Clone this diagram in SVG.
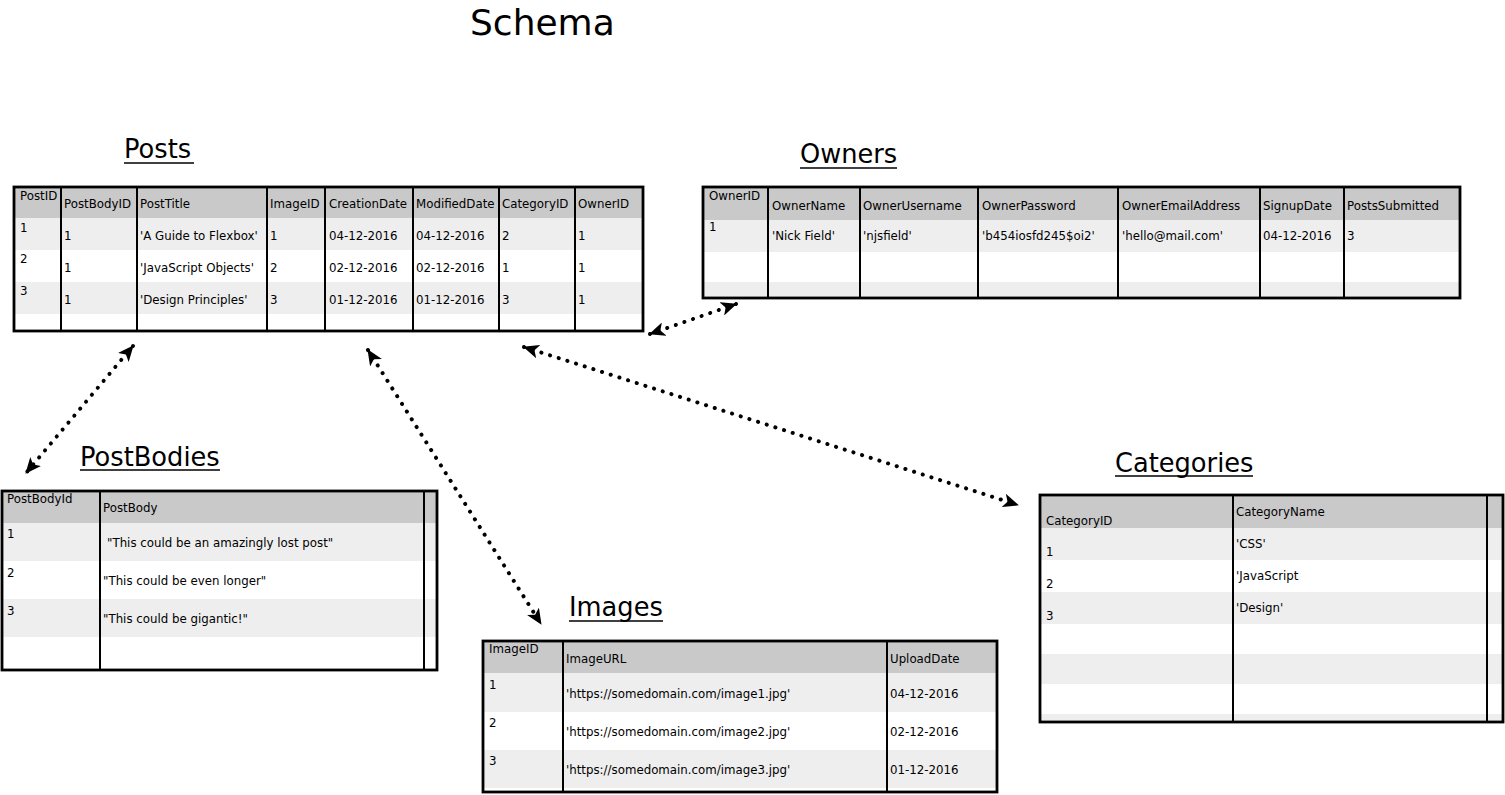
<svg xmlns="http://www.w3.org/2000/svg" width="1505" height="795" viewBox="0 0 1505 795">
<style>
text{font-family:"DejaVu Sans","Liberation Sans",sans-serif;fill:#000}
.t{font-size:11.8px}
.h{font-size:25.7px}
.ttl{font-size:36px}
.hd{fill:#c9c9c9}
.lt{fill:#eeeeee}
.wh{fill:#ffffff}
.col{stroke:#000;stroke-width:2;fill:none}
.bd{stroke:#000;stroke-width:2.8;fill:none}
.ul{stroke:#000;stroke-width:1.6}
.dot{stroke:#000;stroke-width:4;stroke-linecap:round;stroke-dasharray:0.1 9;fill:none}
</style>
<defs>
<marker id="ah" viewBox="0 0 16 14" refX="15" refY="7" markerWidth="16" markerHeight="14" markerUnits="userSpaceOnUse" orient="auto-start-reverse">
<path d="M0,0 L16,7 L0,14 L4,7 z" fill="#000"/>
</marker>
</defs>

<text class="ttl" x="470" y="35">Schema</text>

<g id="posts">
<text class="h" x="124" y="158">Posts</text>
<line class="ul" x1="124" y1="163" x2="194" y2="163"/>
<rect class="hd" x="14" y="187" width="629" height="31"/>
<rect class="lt" x="14" y="218" width="629" height="32"/>
<rect class="wh" x="14" y="250" width="629" height="32"/>
<rect class="lt" x="14" y="282" width="629" height="32"/>
<rect class="wh" x="14" y="314" width="629" height="17"/>
<path class="col" d="M61,187V331M137,187V331M267,187V331M325,187V331M413,187V331M499,187V331M575,187V331"/>
<rect class="bd" x="14" y="187" width="629" height="144"/>
<text class="t" x="20" y="200">PostID</text>
<text class="t" x="64" y="208">PostBodyID</text>
<text class="t" x="140" y="208">PostTitle</text>
<text class="t" x="270" y="208">ImageID</text>
<text class="t" x="329" y="208">CreationDate</text>
<text class="t" x="416" y="208">ModifiedDate</text>
<text class="t" x="502" y="208">CategoryID</text>
<text class="t" x="578" y="208">OwnerID</text>
<text class="t" x="20" y="232">1</text>
<text class="t" x="64" y="240">1</text>
<text class="t" x="140" y="240">'A Guide to Flexbox'</text>
<text class="t" x="270" y="240">1</text>
<text class="t" x="329" y="240">04-12-2016</text>
<text class="t" x="416" y="240">04-12-2016</text>
<text class="t" x="502" y="240">2</text>
<text class="t" x="578" y="240">1</text>
<text class="t" x="20" y="263">2</text>
<text class="t" x="64" y="272">1</text>
<text class="t" x="140" y="272">'JavaScript Objects'</text>
<text class="t" x="270" y="272">2</text>
<text class="t" x="329" y="272">02-12-2016</text>
<text class="t" x="416" y="272">02-12-2016</text>
<text class="t" x="502" y="272">1</text>
<text class="t" x="578" y="272">1</text>
<text class="t" x="20" y="295">3</text>
<text class="t" x="64" y="304">1</text>
<text class="t" x="140" y="304">'Design Principles'</text>
<text class="t" x="270" y="304">3</text>
<text class="t" x="329" y="304">01-12-2016</text>
<text class="t" x="416" y="304">01-12-2016</text>
<text class="t" x="502" y="304">3</text>
<text class="t" x="578" y="304">1</text>
</g>

<g id="owners">
<text class="h" x="800" y="163">Owners</text>
<line class="ul" x1="800" y1="168" x2="897" y2="168"/>
<rect class="hd" x="703" y="187" width="757" height="33"/>
<rect class="lt" x="703" y="220" width="757" height="32"/>
<rect class="wh" x="703" y="252" width="757" height="30"/>
<rect class="lt" x="703" y="282" width="757" height="16"/>
<path class="col" d="M768,187V298M860,187V298M978,187V298M1118,187V298M1260,187V298M1344,187V298"/>
<rect class="bd" x="703" y="187" width="757" height="111"/>
<text class="t" x="709" y="200">OwnerID</text>
<text class="t" x="772" y="210">OwnerName</text>
<text class="t" x="863" y="210">OwnerUsername</text>
<text class="t" x="982" y="210">OwnerPassword</text>
<text class="t" x="1122" y="210">OwnerEmailAddress</text>
<text class="t" x="1263" y="210">SignupDate</text>
<text class="t" x="1347" y="210">PostsSubmitted</text>
<text class="t" x="709" y="231">1</text>
<text class="t" x="772" y="240">'Nick Field'</text>
<text class="t" x="863" y="240">'njsfield'</text>
<text class="t" x="982" y="240">'b454iosfd245$oi2'</text>
<text class="t" x="1122" y="240">'hello@mail.com'</text>
<text class="t" x="1263" y="240">04-12-2016</text>
<text class="t" x="1347" y="240">3</text>
</g>

<g id="postbodies">
<text class="h" x="80" y="466">PostBodies</text>
<line class="ul" x1="80" y1="470" x2="220" y2="470"/>
<rect class="hd" x="2" y="491" width="435" height="32"/>
<rect class="lt" x="2" y="523" width="435" height="38"/>
<rect class="wh" x="2" y="561" width="435" height="38"/>
<rect class="lt" x="2" y="599" width="435" height="38"/>
<rect class="wh" x="2" y="637" width="435" height="33"/>
<path class="col" d="M100,491V670M424,491V670"/>
<rect class="bd" x="2" y="491" width="435" height="179"/>
<text class="t" x="7" y="503">PostBodyId</text>
<text class="t" x="103" y="512">PostBody</text>
<text class="t" x="7" y="538">1</text>
<text class="t" x="107" y="547">"This could be an amazingly lost post"</text>
<text class="t" x="7" y="577">2</text>
<text class="t" x="103" y="585">"This could be even longer"</text>
<text class="t" x="7" y="615">3</text>
<text class="t" x="103" y="623">"This could be gigantic!"</text>
</g>

<g id="images">
<text class="h" x="569" y="616">Images</text>
<line class="ul" x1="569" y1="621" x2="663" y2="621"/>
<rect class="hd" x="483" y="641" width="514" height="32"/>
<rect class="lt" x="483" y="673" width="514" height="39"/>
<rect class="wh" x="483" y="712" width="514" height="38"/>
<rect class="lt" x="483" y="750" width="514" height="38"/>
<rect class="wh" x="483" y="788" width="514" height="4"/>
<path class="col" d="M563,641V792M887,641V792"/>
<rect class="bd" x="483" y="641" width="514" height="151"/>
<text class="t" x="489" y="653">ImageID</text>
<text class="t" x="566" y="663">ImageURL</text>
<text class="t" x="890" y="663">UploadDate</text>
<text class="t" x="489" y="689">1</text>
<text class="t" x="566" y="698">'https://somedomain.com/image1.jpg'</text>
<text class="t" x="890" y="698">04-12-2016</text>
<text class="t" x="489" y="727">2</text>
<text class="t" x="566" y="736">'https://somedomain.com/image2.jpg'</text>
<text class="t" x="890" y="736">02-12-2016</text>
<text class="t" x="489" y="765">3</text>
<text class="t" x="566" y="774">'https://somedomain.com/image3.jpg'</text>
<text class="t" x="890" y="774">01-12-2016</text>
</g>

<g id="categories">
<text class="h" x="1115" y="472">Categories</text>
<line class="ul" x1="1115" y1="476" x2="1253" y2="476"/>
<rect class="hd" x="1040" y="495" width="463" height="33"/>
<rect class="lt" x="1040" y="528" width="463" height="32"/>
<rect class="wh" x="1040" y="560" width="463" height="32"/>
<rect class="lt" x="1040" y="592" width="463" height="32"/>
<rect class="wh" x="1040" y="624" width="463" height="30"/>
<rect class="lt" x="1040" y="654" width="463" height="30"/>
<rect class="wh" x="1040" y="684" width="463" height="30"/>
<rect class="lt" x="1040" y="714" width="463" height="8"/>
<path class="col" d="M1233,495V722M1487,495V722"/>
<rect class="bd" x="1040" y="495" width="463" height="227"/>
<text class="t" x="1046" y="525">CategoryID</text>
<text class="t" x="1236" y="516">CategoryName</text>
<text class="t" x="1046" y="556">1</text>
<text class="t" x="1236" y="548">'CSS'</text>
<text class="t" x="1046" y="588">2</text>
<text class="t" x="1236" y="580">'JavaScript</text>
<text class="t" x="1046" y="620">3</text>
<text class="t" x="1236" y="612">'Design'</text>
</g>

<g id="connectors">
<line class="dot" x1="133" y1="346" x2="26" y2="473" marker-start="url(#ah)" marker-end="url(#ah)"/>
<line class="dot" x1="368" y1="350" x2="541" y2="624" marker-start="url(#ah)" marker-end="url(#ah)"/>
<line class="dot" x1="524" y1="347" x2="1018" y2="505" marker-start="url(#ah)" marker-end="url(#ah)"/>
<line class="dot" x1="650" y1="334" x2="736" y2="304" marker-start="url(#ah)" marker-end="url(#ah)"/>
</g>
</svg>
